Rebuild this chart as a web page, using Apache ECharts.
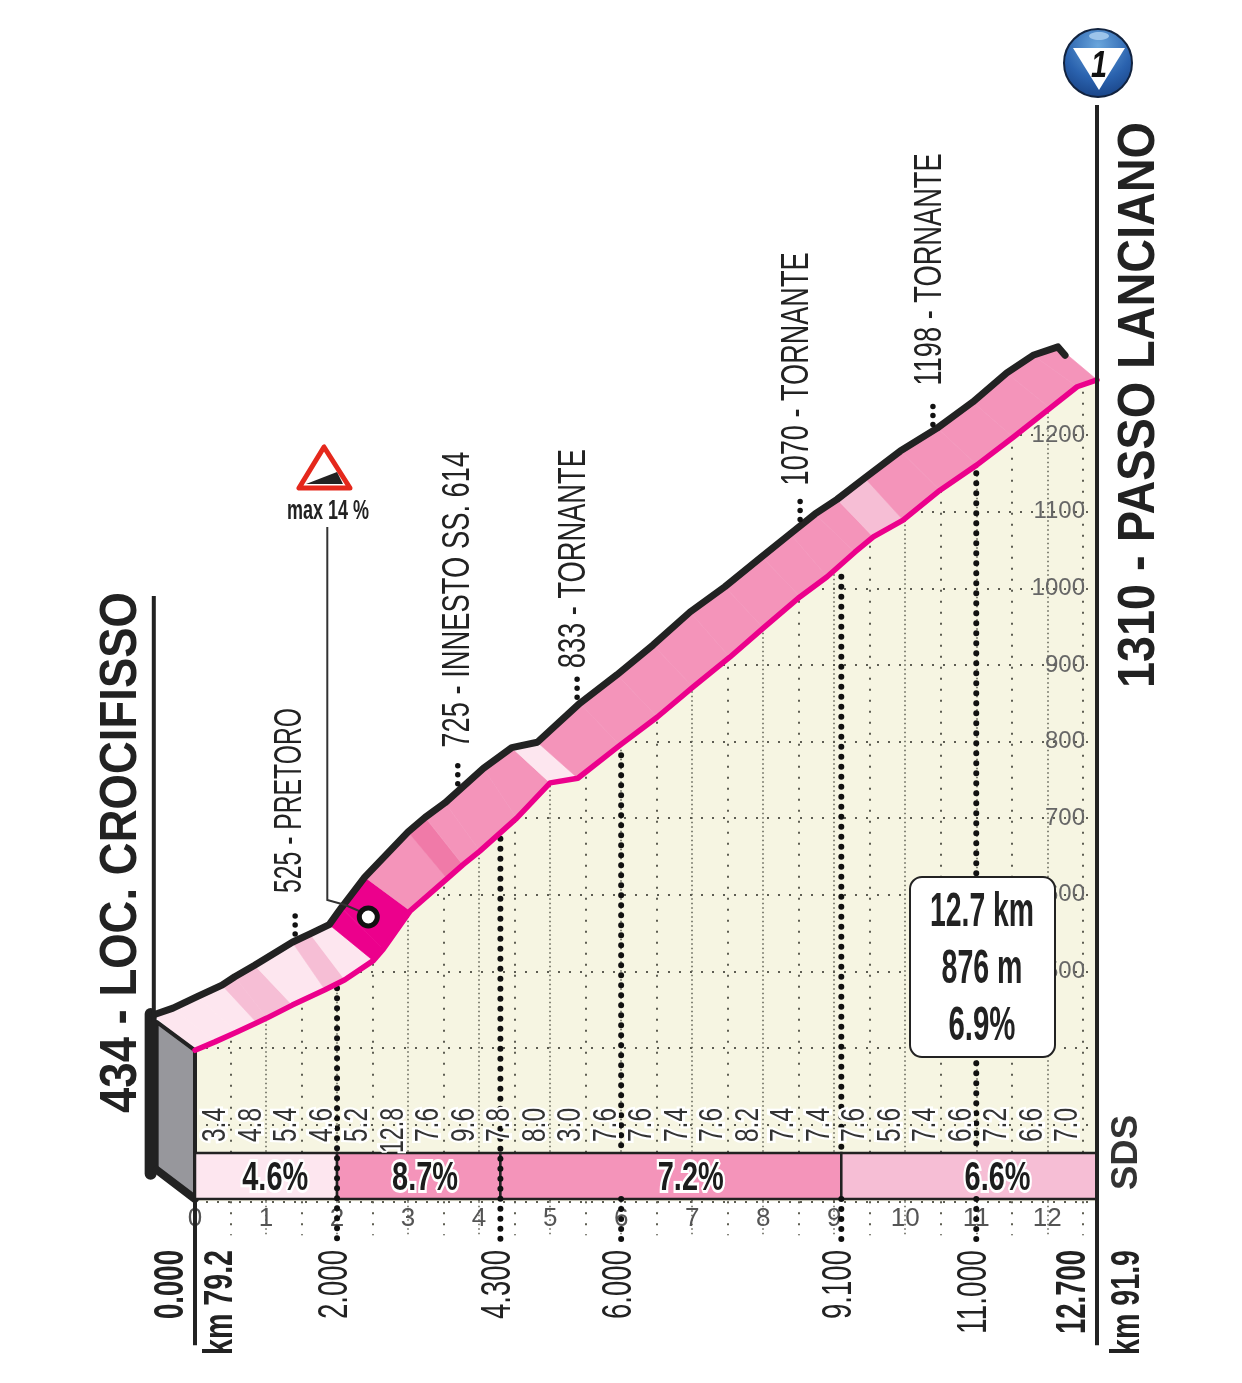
<!DOCTYPE html>
<html lang="it">
<head>
<meta charset="UTF-8">
<title>Passo Lanciano</title>
<script src="https://cdn.jsdelivr.net/npm/echarts@6/dist/echarts.min.js"></script>
<style>
  html, body { margin: 0; padding: 0; background: #fff; }
  #main { width: 1242px; height: 1383px; }
</style>
</head>
<body>
<div id="main"></div>
<script>
// front edge of the ribbon (pink line), km / axis metres
const frontKm = [0, 0.28, 0.59, 0.87, 1.01, 1.37, 1.83, 2.11, 2.51, 2.65, 3.03, 3.55, 3.77, 4.01, 4.53, 5.00, 5.39, 5.98, 6.51, 7.01, 7.53, 8.00, 8.52, 8.90, 9.29, 9.55, 9.97, 10.49, 11.01, 11.52, 12.04, 12.42, 12.70];
const frontElev = [397, 408, 421, 433, 439, 456, 476, 489, 514, 529, 579, 621, 639, 657, 700, 746, 752, 795, 832, 871, 910, 948, 989, 1015, 1047, 1067, 1089, 1128, 1161, 1197, 1235, 1263, 1272];
// back edge (black line), paired with the front points
const ridgeKm = [-0.59, -0.31, 0.03, 0.38, 0.56, 0.84, 1.37, 1.62, 1.89, 2.06, 2.39, 3.00, 3.24, 3.52, 4.06, 4.46, 4.82, 5.42, 5.94, 6.45, 6.97, 7.46, 7.98, 8.38, 8.73, 9.04, 9.43, 9.93, 10.45, 10.95, 11.43, 11.80, 12.15, 12.25];
const ridgeElev = [443, 452, 467, 482, 493, 508, 538, 549, 561, 583, 623, 682, 701, 720, 765, 792, 799, 850, 887, 926, 969, 1002, 1041, 1071, 1097, 1116, 1144, 1179, 1209, 1243, 1281, 1304, 1315, 1304];
// colour class of each ribbon segment
const segmentShade = [0, 0, 0, 1, 1, 0, 1, 0, 4, 4, 2, 3, 2, 2, 2, 0, 2, 2, 2, 2, 2, 2, 2, 2, 2, 1, 2, 2, 2, 2, 2, 2];
// grey start face
const faceKm = [-0.54, 0, 0, -0.54];
const faceElev = [434, 397, 203, 241];
// gradient every 500 m
const stepGrades = ['3.4', '4.8', '5.4', '4.6', '5.2', '12.8', '7.6', '9.6', '7.8', '8.0', '3.0', '7.6', '7.6', '7.4', '7.6', '8.2', '7.4', '7.4', '7.6', '5.6', '7.4', '6.6', '7.2', '6.6', '7.0'];
// long sectors in the strip
const sectorKm = [0, 2, 4.3, 9.1, 12.7];
const sectorGrades = ['4.6%', '8.7%', '7.2%', '6.6%'];
const sectorShade = [0, 2, 2, 1];
const sectorLabelKm = [1.13, 3.24, 6.98, 11.3];
// checkpoints, dotted lines
const checkKm = [2, 4.3, 6, 9.1, 11];
const checkTop = [478, 673, 782, 1015, 1150];
const distKm = [0, 2, 4.3, 6, 9.1, 11, 12.7];
const distLabels = ['0.000', '2.000', '4.300', '6.000', '9.100', '11.000', '12.700'];
// places along the climb
const poiKm = [1.41, 3.70, 5.38, 8.52, 10.39];
const poiElev = [541, 737, 850, 1082, 1206];
const poiLabels = ['525 - PRETORO', '725 - INNESTO SS. 614', '833 - TORNANTE', '1070 - TORNANTE', '1198 - TORNANTE'];
// steepest point
const maxKm = 2.44;
const maxElev = 571;
const summaryLines = ['12.7 km', '876 m', '6.9%'];

const shadeColors = ['#fde6ef', '#f6bed5', '#f494ba', '#f07aa8', '#ec008c'];
const INK = '#222';
const NARROW = '"Liberation Sans Narrow", "Liberation Sans", sans-serif';

const measure = document.createElement('canvas').getContext('2d');
// stretch a string so it runs over len pixels
function fit(text, font, len) {
    measure.font = font;
    return len / measure.measureText(text).width;
}
function textEl(x, y, text, font, len, extra, upright) {
    return {
        type: 'text', x: x, y: y,
        rotation: upright ? 0 : Math.PI / 2,
        scaleX: fit(text, font, len),
        silent: true,
        style: Object.assign({
            text: text, font: font, fill: INK,
            align: 'left', verticalAlign: 'middle',
            textAlign: 'left', textVerticalAlign: 'middle'
        }, extra || {})
    };
}
function rightEnd() { return { align: 'right', textAlign: 'right' }; }
function middle() { return { align: 'center', textAlign: 'center' }; }
function polyOf(api, xs, ys) {
    return xs.map(function (x, i) { return api.coord([x, ys[i]]); });
}
function line(a, b, style) {
    return { type: 'line', silent: true, shape: { x1: a[0], y1: a[1], x2: b[0], y2: b[1] }, style: style };
}
// custom series that draws one group once
function layer(z, draw) {
    return {
        type: 'custom', coordinateSystem: 'cartesian2d', z: z, silent: true, clip: false,
        data: [[0, 0]],
        renderItem: function (params, api) {
            return { type: 'group', children: draw(api) };
        }
    };
}

var chart = echarts.init(document.getElementById('main'));
var dots = { stroke: '#111', lineWidth: 6, lineCap: 'round', lineDash: [0, 10] };

var option = {
    animation: false,
    backgroundColor: '#fff',
    grid: { show: true, left: 195, width: 902, top: 281.75, height: 919.5, borderWidth: 0, backgroundColor: '#f6f5e2' },
    xAxis: {
        type: 'value', min: 0, max: 12.7, interval: 1,
        axisLine: { show: false },
        axisTick: { show: true, length: 34, lineStyle: { color: '#5d5d52', width: 1.5, type: [1.5, 3] } },
        minorTick: { show: true, splitNumber: 2, length: 34, lineStyle: { color: '#5d5d52', width: 2, type: [2, 9] } },
        axisLabel: {
            margin: 5, color: '#555', fontFamily: NARROW, fontSize: 26, showMaxLabel: false,
            formatter: function (v) { return Number.isInteger(v) ? String(v) : ''; }
        },
        splitLine: { show: true, lineStyle: { color: '#5d5d52', width: 1.5, type: [1.5, 3] } },
        minorSplitLine: { show: true, lineStyle: { color: '#5d5d52', width: 2, type: [2, 9] } }
    },
    yAxis: {
        type: 'value', min: 200, max: 1400, interval: 100, position: 'right',
        axisLine: { show: false }, axisTick: { show: false },
        axisLabel: {
            inside: true, margin: 12, color: '#666', fontFamily: NARROW, fontSize: 24,
            formatter: function (v) { return v >= 500 && v <= 1200 ? String(v) : ''; }
        },
        splitLine: { show: true, lineStyle: { color: '#5d5d52', width: 2, type: [2, 9] } }
    },
    series: [
        // white above the profile hides the grid
        layer(1, function (api) {
            var pts = polyOf(api, frontKm, frontElev);
            pts.push(api.coord([12.75, 1272]), api.coord([12.75, 1410]), api.coord([-0.05, 1410]), api.coord([-0.05, 397]));
            return [{ type: 'polygon', silent: true, shape: { points: pts }, style: { fill: '#fff' } }];
        }),
        // ribbon
        layer(3, function (api) {
            return segmentShade.map(function (s, i) {
                var pts = [
                    api.coord([frontKm[i], frontElev[i]]),
                    api.coord([frontKm[i + 1], frontElev[i + 1]]),
                    api.coord([ridgeKm[i + 1], ridgeElev[i + 1]]),
                    api.coord([ridgeKm[i], ridgeElev[i]])
                ];
                return { type: 'polygon', silent: true, shape: { points: pts }, style: { fill: shadeColors[s], stroke: shadeColors[s], lineWidth: 0.6 } };
            });
        }),
        // grey face
        layer(3, function (api) {
            var pts = polyOf(api, faceKm, faceElev);
            return [
                { type: 'polygon', silent: true, shape: { points: pts }, style: { fill: '#97979c', stroke: INK, lineWidth: 4, lineJoin: 'round' } },
                line([pts[0][0] - 6, pts[0][1] - 8], [pts[3][0] - 6, pts[3][1] + 4], { stroke: INK, lineWidth: 12, lineCap: 'round' }),
                line(pts[3], pts[2], { stroke: INK, lineWidth: 8, lineCap: 'round' })
            ];
        }),
        // sector strip and step grades
        layer(4, function (api) {
            var out = [];
            sectorGrades.forEach(function (g, i) {
                var a = api.coord([sectorKm[i], 263]);
                var b = api.coord([sectorKm[i + 1], 203]);
                out.push({
                    type: 'rect', silent: true,
                    shape: { x: a[0], y: a[1], width: b[0] - a[0], height: b[1] - a[1] },
                    style: { fill: shadeColors[sectorShade[i]], stroke: INK, lineWidth: 2.5 }
                });
            });
            return out;
        }),
        // checkpoint dots
        layer(5, function (api) {
            var out = [];
            checkKm.forEach(function (km, i) {
                var through = km === 2 || km === 4.3;
                var top = api.coord([km, checkTop[i]]);
                if (through) {
                    out.push(line(top, api.coord([km, 149]), dots));
                } else {
                    out.push(line(top, api.coord([km, 263]), dots));
                    out.push(line(api.coord([km, 203]), api.coord([km, 149]), dots));
                }
            });
            return out;
        }),
        layer(6, function (api) {
            var out = [];
            stepGrades.forEach(function (g, i) {
                var p = api.coord([0.25 + i * 0.5, 300]);
                var font = '34px ' + NARROW;
                var len = g.length > 3 ? 45 : 34;
                out.push(textEl(p[0] + 3, 1108, g, font, len, Object.assign(rightEnd(), { fill: '#333', stroke: '#fff', lineWidth: 6, strokeFirst: true })));
            });
            sectorGrades.forEach(function (g, i) {
                var p = api.coord([sectorLabelKm[i], 230]);
                var font = 'bold 40px ' + NARROW;
                out.push(textEl(p[0], 1179, g, font, 66, Object.assign(middle(), { fill: '#1c1c1c', stroke: '#fff', lineWidth: 6, strokeFirst: true }), true));
            });
            return out;
        }),
        // profile lines
        layer(7, function (api) {
            return [{
                type: 'polyline', silent: true,
                shape: { points: polyOf(api, ridgeKm, ridgeElev) },
                style: { stroke: INK, lineWidth: 7, lineCap: 'round', lineJoin: 'round', fill: 'none' }
            }];
        }),
        {
            type: 'line', name: 'front', z: 7, clip: false, showSymbol: false, silent: true,
            data: frontKm.map(function (k, i) { return [k, frontElev[i]]; }),
            lineStyle: { color: '#ec008c', width: 5.5, cap: 'round', join: 'round' }
        },
        // posts, place labels, distances, max marker
        layer(8, function (api) {
            var out = [];
            var post = { stroke: INK, lineWidth: 4 };
            out.push(line(api.coord([12.7, 1200 + (435 - 105) / 0.76625]), api.coord([12.7, 200 - (1345 - 1201) / 0.76625]), post));
            out.push(line(api.coord([0, 200]), api.coord([0, 200 - (1345 - 1201) / 0.76625]), post));
            out.push(line(api.coord([-0.58, 434]), api.coord([-0.58, 434 + (1013 - 596 - 0 + 9) / 0.76625]), post));

            var spans = [185, 296, 219, 233, 232];
            var gaps = [47, 42, 35, 40, 45];
            var shifts = [-5, 0, -3, -3, -3];
            poiLabels.forEach(function (t, i) {
                var p = api.coord([poiKm[i], poiElev[i]]);
                out.push(line([p[0], p[1] - 6], [p[0], p[1] - 27], { stroke: '#111', lineWidth: 5.5, lineCap: 'round', lineDash: [0, 9] }));
                out.push(textEl(p[0] + shifts[i], p[1] - gaps[i], t, '39px ' + NARROW, spans[i]));
            });

            distLabels.forEach(function (t, i) {
                var p = api.coord([distKm[i], 200]);
                var edge = i === 0 || i === distLabels.length - 1;
                var font = (edge ? 'bold ' : '') + '42px ' + NARROW;
                var len = t.length > 5 ? 84 : 69;
                out.push(textEl(p[0] + (edge ? -24 : -2), 1250, t, font, len, rightEnd()));
            });

            var m = api.coord([maxKm, maxElev]);
            out.push({
                type: 'polyline', silent: true,
                shape: { points: [[m[0] - 41, 527], [m[0] - 41, 900], [m[0] - 23, 905], [m[0], 915]] },
                style: { stroke: '#333', lineWidth: 2, fill: 'none' }
            });
            out.push({
                type: 'circle', silent: true,
                shape: { cx: m[0], cy: m[1], r: 9 },
                style: { fill: '#fff', stroke: '#111', lineWidth: 5 }
            });
            return out;
        })
    ],
    graphic: [
        // big names
        textEl(122, 1113, '434 - LOC. CROCIFISSO', 'bold 52px ' + NARROW, 521),
        textEl(1140, 688, '1310 - PASSO LANCIANO', 'bold 52px ' + NARROW, 566),
        textEl(221, 1355, 'km 79.2', 'bold 40px ' + NARROW, 105),
        textEl(1128, 1355, 'km 91.9', 'bold 40px ' + NARROW, 105),
        textEl(1127, 1190, 'SDS', 'bold 36px "Liberation Sans", sans-serif', 75, { fill: '#333' }),
        // steepness sign
        {
            type: 'polygon', silent: true, z: 20,
            shape: { points: [[324, 447], [299, 488], [350, 488]] },
            style: { fill: '#fff', stroke: '#e5281c', lineWidth: 5, lineJoin: 'round' }
        },
        {
            type: 'polygon', silent: true, z: 21,
            shape: { points: [[306, 484], [337, 472], [343, 484]] },
            style: { fill: '#222' }
        },
        Object.assign(textEl(328, 512, 'max 14 %', 'bold 27px ' + NARROW, 82, middle(), true), { z: 21 }),
        // climb badge
        {
            type: 'circle', silent: true,
            shape: { cx: 1098, cy: 63, r: 34 },
            style: {
                stroke: '#12233f', lineWidth: 2,
                fill: new echarts.graphic.RadialGradient(0.5, 0.25, 0.8, [
                    { offset: 0, color: '#6aa6dc' }, { offset: 0.6, color: '#2a62ae' }, { offset: 1, color: '#173f80' }
                ])
            }
        },
        { type: 'ellipse', silent: true, shape: { cx: 1099, cy: 36, rx: 10, ry: 4 }, style: { fill: '#9cc4ea' } },
        {
            type: 'polygon', silent: true,
            shape: { points: [[1073, 48], [1125, 48], [1099, 90]] },
            style: { fill: '#fff' }
        },
        textEl(1099, 67, '1', 'italic bold 36px "Liberation Sans", sans-serif', 16, Object.assign(middle(), { fill: '#111' }), true),
        // summary box
        {
            type: 'rect', silent: true, z: 50,
            shape: { x: 910, y: 877, width: 145, height: 180, r: 12 },
            style: { fill: '#fff', stroke: '#222', lineWidth: 2 }
        },
        Object.assign(textEl(982, 913, summaryLines[0], 'bold 48px ' + NARROW, 104, middle(), true), { z: 51 }),
        Object.assign(textEl(982, 970, summaryLines[1], 'bold 48px ' + NARROW, 81, middle(), true), { z: 51 }),
        Object.assign(textEl(982, 1027, summaryLines[2], 'bold 48px ' + NARROW, 67, middle(), true), { z: 51 })
    ]
};
chart.setOption(option);
</script>
</body>
</html>
